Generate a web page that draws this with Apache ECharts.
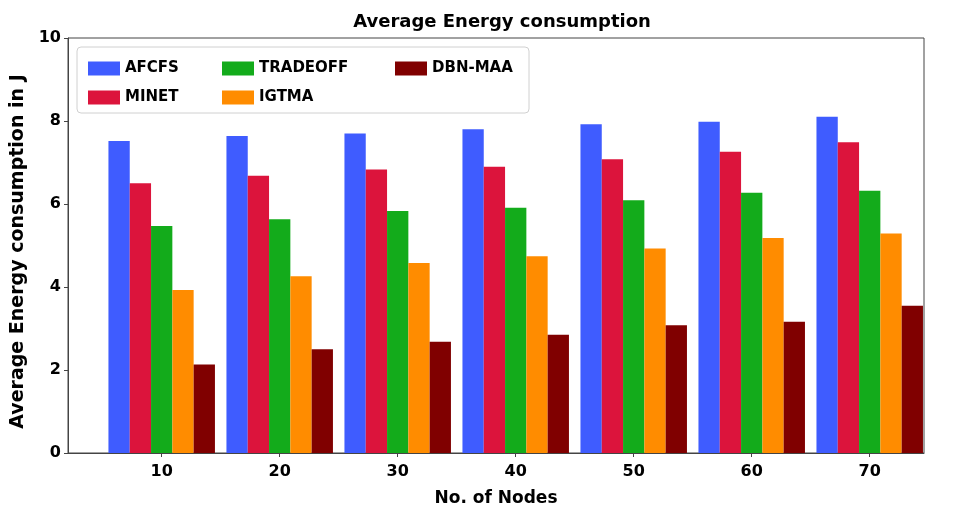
<!DOCTYPE html>
<html><head><meta charset="utf-8">
<script src="https://cdn.jsdelivr.net/npm/echarts@6/dist/echarts.min.js"></script>
<style>html,body{margin:0;padding:0;background:#fff}#c{width:968px;height:509px}</style>
</head><body><div id="c"></div>
<script>
const nodes = [10, 20, 30, 40, 50, 60, 70];
const AFCFS   = [7.52, 7.64, 7.70, 7.80, 7.92, 7.98, 8.10];
const MINET   = [6.50, 6.68, 6.83, 6.90, 7.08, 7.26, 7.49];
const TRADEOFF= [5.47, 5.63, 5.83, 5.91, 6.09, 6.27, 6.32];
const IGTMA   = [3.93, 4.26, 4.58, 4.74, 4.93, 5.18, 5.29];
const DBNMAA  = [2.13, 2.50, 2.68, 2.85, 3.08, 3.16, 3.55];
const yTicks = [0, 2, 4, 6, 8, 10];

const seriesDefs = [
  {name:'AFCFS', data:AFCFS, color:'#3f5cff'},
  {name:'MINET', data:MINET, color:'#dc143c'},
  {name:'TRADEOFF', data:TRADEOFF, color:'#13ab1b'},
  {name:'IGTMA', data:IGTMA, color:'#ff8c00'},
  {name:'DBN-MAA', data:DBNMAA, color:'#800000'}
];
const font = 'DejaVu Sans';
const chart = echarts.init(document.getElementById('c'), null, {renderer:'canvas'});
const legendCommon = {
  orient:'vertical', itemWidth:32, itemHeight:14, itemGap:14, icon:'rect',
  textStyle:{fontFamily:font, fontWeight:'bold', fontSize:15, color:'#000'}, selectedMode:false
};
chart.setOption({
  animation:false,
  title:{text:'Average Energy consumption', left:497, textAlign:'center', top:8,
    textStyle:{fontFamily:font, fontWeight:'bold', fontSize:18, color:'#000'}},
  grid:{left:68, right:44, top:38, bottom:56, show:true, borderColor:'#444', borderWidth:1,
    outerBoundsMode:'none', containLabel:false},
  graphic:[{type:'rect', shape:{x:77, y:47, width:452, height:66, r:4},
    style:{fill:'rgba(255,255,255,0.8)', stroke:'#d0d0d0', lineWidth:1}, z:0}],
  legend:[
    Object.assign({left:83, top:56, data:['AFCFS','MINET']}, legendCommon),
    Object.assign({left:217, top:56, data:['TRADEOFF','IGTMA']}, legendCommon),
    Object.assign({left:390, top:56, data:['DBN-MAA']}, legendCommon)
  ],
  xAxis:{type:'value', min:2.06, max:74.6,
    name:'No. of Nodes', nameLocation:'middle', nameGap:37,
    nameTextStyle:{fontFamily:font, fontWeight:'bold', fontSize:17, color:'#000'},
    axisLine:{lineStyle:{color:'#444'}},
    axisTick:{customValues:nodes, length:4, lineStyle:{color:'#444'}},
    axisLabel:{customValues:nodes, fontFamily:font, fontWeight:'bold', fontSize:16, color:'#000', margin:11},
    splitLine:{show:false}},
  yAxis:{type:'value', min:0, max:10, interval:2,
    name:'Average Energy consumption in J', nameLocation:'middle', nameGap:35,
    nameTextStyle:{fontFamily:font, fontWeight:'bold', fontSize:19, color:'#000', padding:[0, 12, 0, 0]},
    axisLine:{show:true, lineStyle:{color:'#444'}},
    axisTick:{show:true, length:4, lineStyle:{color:'#444'}},
    axisLabel:{fontFamily:font, fontWeight:'bold', fontSize:16, color:'#000', margin:7},
    splitLine:{show:false}},
  series: seriesDefs.map(s => ({
    type:'bar', name:s.name, barWidth:21.3, barGap:'0%',
    itemStyle:{color:s.color},
    data: nodes.map((n,i) => [n, s.data[i]])
  }))
});
</script></body></html>
